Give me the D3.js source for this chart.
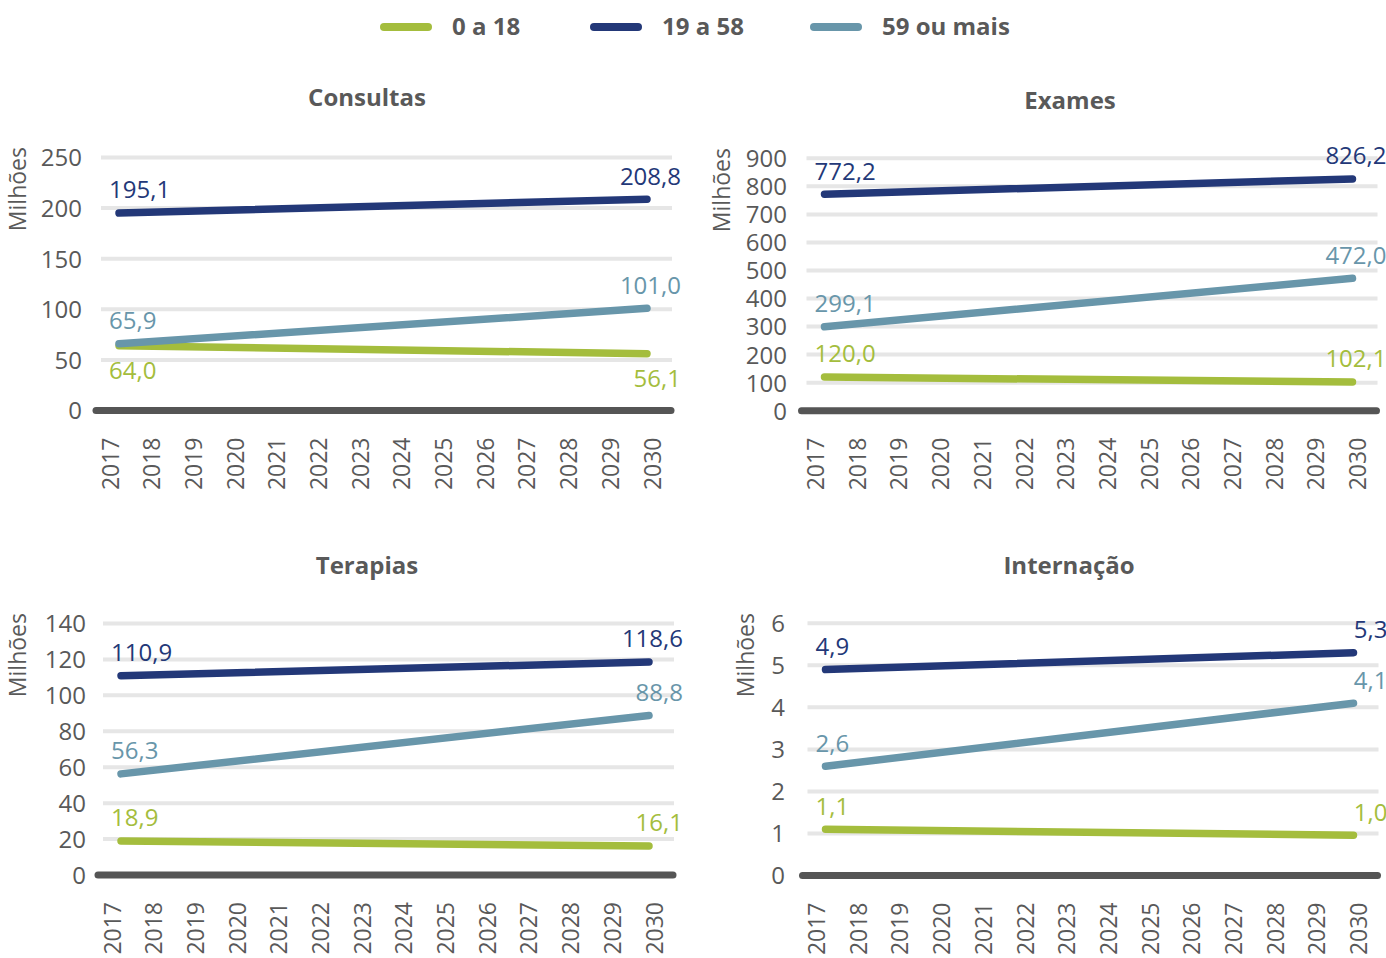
<!DOCTYPE html>
<html>
<head>
<meta charset="utf-8">
<script src="https://cdn.jsdelivr.net/npm/d3@7"></script>
<style>
  body { margin: 0; background: #fff; }
  svg text { font-family: "Open Sans", sans-serif; fill: #595959; }
</style>
</head>
<body>
<svg id="chart" width="1386" height="958"></svg>
<script>
// Dados do gráfico - anos do eixo x
const anos = [2017, 2018, 2019, 2020, 2021, 2022, 2023, 2024, 2025, 2026, 2027, 2028, 2029, 2030];
// só o primeiro e o último ano têm valor rotulado
const anosRotulados = [2017, 2030];

const faixas = ["0 a 18", "19 a 58", "59 ou mais"];
const paineis = ["Consultas", "Exames", "Terapias", "Internação"];

// valores [2017, 2030] por faixa etária (milhões)
const consultas = [[64.0, 56.1], [195.1, 208.8], [65.9, 101.0]];
const exames = [[120.0, 102.1], [772.2, 826.2], [299.1, 472.0]];
const terapias = [[18.9, 16.1], [110.9, 118.6], [56.3, 88.8]];
const internacao = [[1.1, 0.96], [4.9, 5.3], [2.6, 4.1]];

// ticks do eixo y
const ticksConsultas = [0, 50, 100, 150, 200, 250];
const ticksExames = [0, 100, 200, 300, 400, 500, 600, 700, 800, 900];
const ticksTerapias = [0, 20, 40, 60, 80, 100, 120, 140];
const ticksInternacao = [0, 1, 2, 3, 4, 5, 6];

// cores das faixas
const cores = ["#a4bd3d", "#233878", "#6896aa"];

// layout de cada painel (posições na tela)
const layout = [
  { x0: 96, x1: 671, yTop: 157.5, yBase: 410.5, tickX: 82, titleX: 367, titleY: 98, milX: 18, milY: 147, verdeAbaixo: true },
  { x0: 801.5, x1: 1376.5, yTop: 158.3, yBase: 410.7, tickX: 787, titleX: 1070, titleY: 101, milX: 722, milY: 148, verdeAbaixo: false },
  { x0: 98, x1: 673, yTop: 623.5, yBase: 875, tickX: 86, titleX: 367, titleY: 566, milX: 18, milY: 613, verdeAbaixo: false },
  { x0: 802.5, x1: 1377.5, yTop: 623.3, yBase: 875.5, tickX: 785, titleX: 1069, titleY: 566, milX: 746, milY: 613, verdeAbaixo: false }
];

const dadosPaineis = [consultas, exames, terapias, internacao];
const ticksPaineis = [ticksConsultas, ticksExames, ticksTerapias, ticksInternacao];

// formato brasileiro: vírgula decimal
const fmt = d3.formatLocale({ decimal: ",", thousands: ".", grouping: [3], currency: ["R$", ""] }).format(".1f");

const svg = d3.select("#chart");

////// Legenda //////
const legendaX = [380, 590, 810];
const legenda = svg.append("g").attr("class", "legenda");
faixas.forEach((f, i) => {
  legenda.append("line")
    .attr("x1", legendaX[i] + 4).attr("x2", legendaX[i] + 48)
    .attr("y1", 27).attr("y2", 27)
    .attr("stroke", cores[i])
    .attr("stroke-width", 8)
    .attr("stroke-linecap", "round");
  legenda.append("text")
    .attr("x", legendaX[i] + 72).attr("y", 27)
    .attr("dy", "0.35em")
    .style("font-size", "24px")
    .style("font-weight", "bold")
    .text(f);
});

////// Painéis //////
paineis.forEach((nome, p) => {
  const L = layout[p];
  const dados = dadosPaineis[p];
  const ticks = ticksPaineis[p];
  const g = svg.append("g").attr("class", "painel");

  // escala y
  const y = d3.scaleLinear()
    .domain([0, d3.max(ticks)])
    .range([L.yBase, L.yTop]);

  // escala para os rótulos dos anos e para as linhas
  const xAnos = d3.scalePoint().domain(anos).range([L.x0 + 14, L.x1 - 19]);
  const xLinha = d3.scalePoint().domain(anos).range([L.x0 + 23, L.x1 - 24]);

  // título
  g.append("text")
    .attr("x", L.titleX).attr("y", L.titleY)
    .attr("dy", "0.35em")
    .attr("text-anchor", "middle")
    .style("font-size", "24px")
    .style("font-weight", "bold")
    .text(nome);

  // "Milhões"
  g.append("text")
    .attr("transform", `translate(${L.milX + 8},${L.milY}) rotate(-90)`)
    .attr("text-anchor", "end")
    .style("font-size", "23px")
    .text("Milhões");

  // linhas de grade
  g.selectAll(".grade")
    .data(ticks.filter(t => t > 0))
    .enter()
    .append("line")
    .attr("class", "grade")
    .attr("x1", L.x0 + 5).attr("x2", L.x1 + 1)
    .attr("y1", d => y(d)).attr("y2", d => y(d))
    .attr("stroke", "#e6e6e6")
    .attr("stroke-width", 4);

  // linha do zero
  g.append("line")
    .attr("x1", L.x0).attr("x2", L.x1)
    .attr("y1", y(0)).attr("y2", y(0))
    .attr("stroke", "#555555")
    .attr("stroke-width", 7)
    .attr("stroke-linecap", "round");

  // eixo y
  const yAxis = d3.axisLeft(y).tickValues(ticks).tickSize(0).tickPadding(0).tickFormat(d3.format("d"));
  const gy = g.append("g")
    .attr("transform", `translate(${L.tickX},0)`)
    .call(yAxis);
  gy.select(".domain").remove();
  gy.selectAll("text").style("font-size", "24px").attr("dy", "0.35em");

  // eixo x com anos rotacionados
  const xAxis = d3.axisBottom(xAnos).tickSize(0);
  const gx = g.append("g")
    .attr("transform", `translate(0,${L.yBase + 27})`)
    .call(xAxis);
  gx.select(".domain").remove();
  gx.selectAll("text")
    .attr("x", 0).attr("y", 0)
    .attr("dy", "0.35em")
    .attr("transform", "rotate(-90)")
    .style("text-anchor", "end")
    .style("font-size", "23px");

  // linhas das séries
  const line = d3.line()
    .x(d => xLinha(d.ano))
    .y(d => y(d.valor));

  dados.forEach((vals, i) => {
    const pts = anosRotulados.map((a, k) => ({ ano: a, valor: vals[k] }));
    g.append("path")
      .datum(pts)
      .attr("d", line)
      .attr("fill", "none")
      .attr("stroke", cores[i])
      .attr("stroke-width", 7.5)
      .attr("stroke-linecap", "round");

    // rótulos dos valores
    const abaixo = (i === 0 && L.verdeAbaixo);
    const off = abaixo ? 25 : -23;
    g.append("text")
      .attr("x", xLinha(pts[0].ano) - 10)
      .attr("y", y(pts[0].valor) + off)
      .attr("dy", "0.35em")
      .attr("text-anchor", "start")
      .style("font-size", "24px")
      .style("fill", cores[i])
      .text(fmt(pts[0].valor));
    g.append("text")
      .attr("x", xLinha(pts[1].ano) + 34)
      .attr("y", y(pts[1].valor) + off)
      .attr("dy", "0.35em")
      .attr("text-anchor", "end")
      .style("font-size", "24px")
      .style("fill", cores[i])
      .text(fmt(pts[1].valor));
  });
});
</script>
</body>
</html>
